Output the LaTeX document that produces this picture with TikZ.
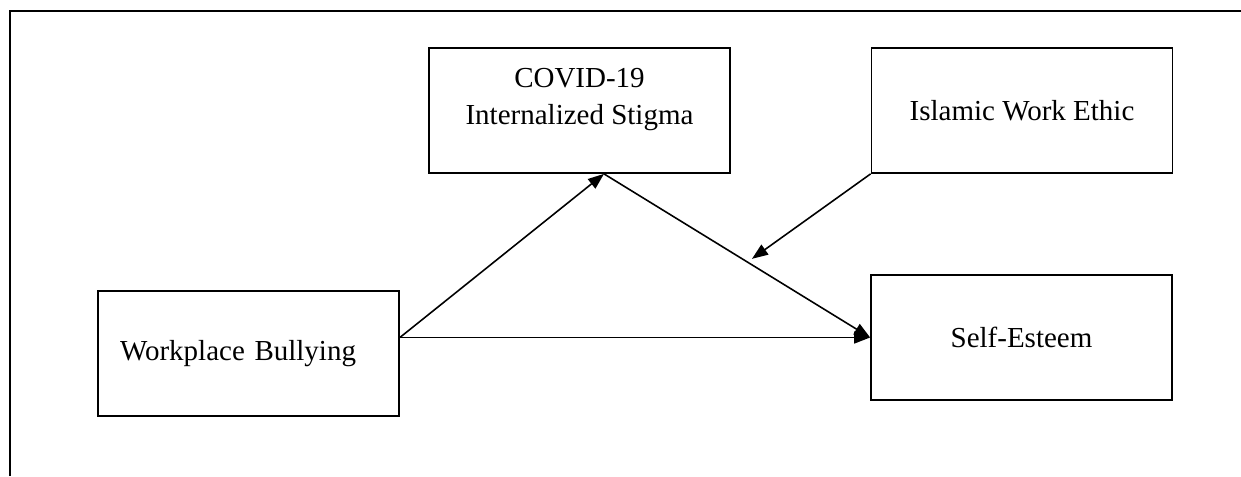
\documentclass[tikz,border=0pt]{standalone}
\usepackage{fontspec}
\setmainfont{Liberation Serif}
\usetikzlibrary{arrows.meta,positioning,calc}

\begin{document}
\begin{tikzpicture}[
    box/.style={draw, line width=1pt, minimum width=6.02cm, minimum height=2.5cm, inner sep=0pt},
    arr/.style={line width=0.9pt, -{Triangle[length=3.2mm,width=2.4mm]}},
    every node/.style={font=\fontsize{16.5}{21.5}\selectfont}
]
    \useasboundingbox (0,0) rectangle (24.82,9.52);

    % Frame
    \draw[line width=1.1pt] (0.2,0) -- (0.2,9.30) -- (24.82,9.30);

    % Boxes
    \node[box, text width=5.14cm, align=left, inner xsep=0.44cm] (bully) at (4.97,2.45) {Workplace Bullying};
    \node[box] (stigma) at (11.59,7.31) {\parbox[c][1.7cm][t]{5.8cm}{\centering COVID-19\\Internalized Stigma}};
    \node[box] (ethic) at (20.44,7.31) {Islamic Work Ethic};
    \node[box] (esteem) at (20.43,2.77) {Self-Esteem};

    % Paths
    \coordinate (start) at (bully.east |- esteem.west);
    \coordinate (top) at ($(stigma.south)+(0.49,0)$);
    \coordinate (mod) at ($(top)!0.556!(esteem.west)+(0,0.12)$);

    \draw[arr] (start) -- (esteem.west);
    \draw[arr] (start) -- (top);
    \draw[arr] (top) -- (esteem.west);
    \draw[arr] (ethic.south west) -- (mod);
\end{tikzpicture}
\end{document}
